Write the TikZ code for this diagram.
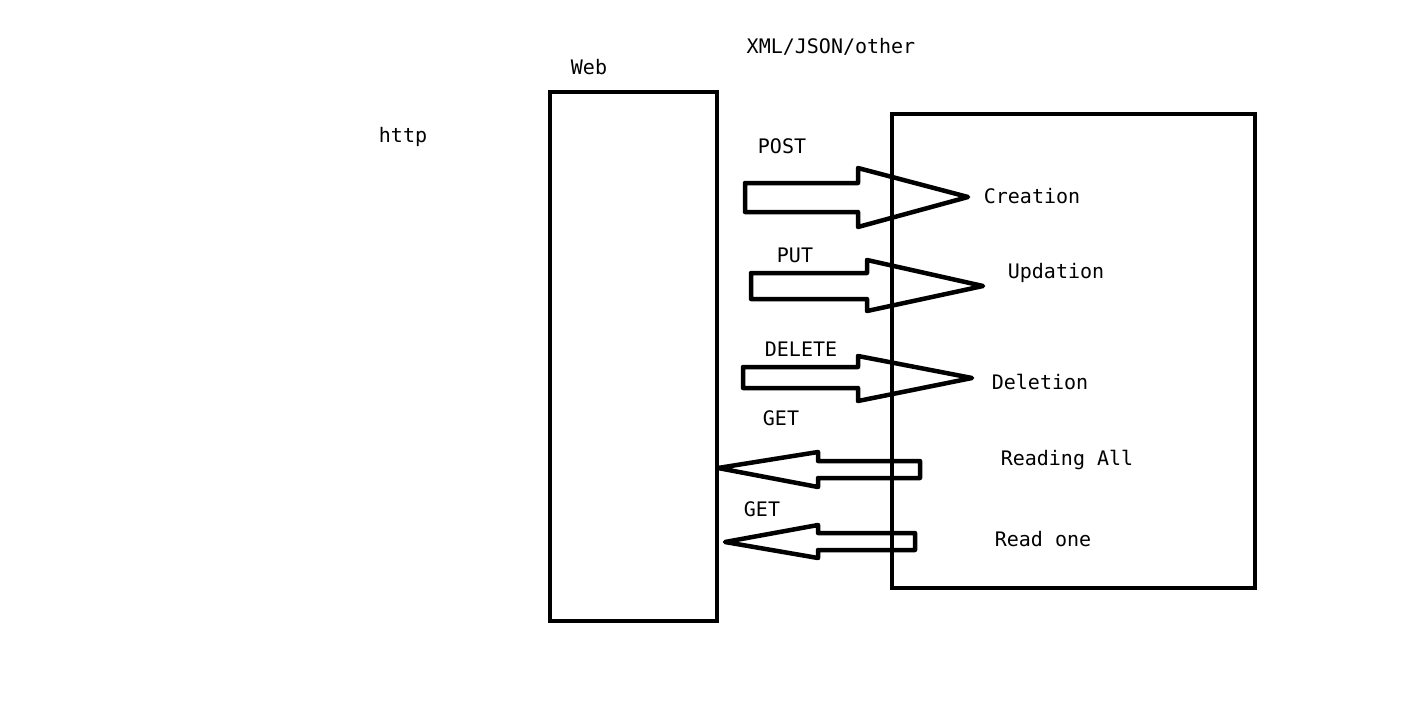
\documentclass[tikz,border=0pt]{standalone}
\usepackage{fontspec}
\setmonofont{DejaVu Sans Mono}
\usetikzlibrary{positioning}

\begin{document}
\begin{tikzpicture}[
    x=1pt, y=-1pt,
    lbl/.style={inner sep=0pt, font=\ttfamily\fontsize{20}{23}\selectfont},
    pane/.style={draw, line width=4.5pt, rectangle, inner sep=0pt},
    blockarrow/.style={draw, line width=4.5pt, line join=round},
]
\useasboundingbox (0,0) rectangle (1416,726);

% --- the two boxes ---
\node[pane, minimum width=167pt, minimum height=529pt] (web) at (633.5,356.5) {};
\node[pane, minimum width=363pt, minimum height=474pt] (res) at (1073.5,351) {};

% --- top labels ---
\node[lbl] (web-lbl) at (589,67) {Web};
\node[lbl] (fmt) at (831,47) {XML/JSON/other};
\node[lbl] (http) at (403,137) {http};

% --- incoming requests ---
\node[lbl] (post) at (782,146) {POST};
\draw[blockarrow] (745,183) -- (858,183) -- (858,168) -- (968,197)
    -- (858,227) -- (858,212) -- (745,212) -- cycle;
\node[lbl] (create) at (1032,196) {Creation};

\node[lbl] (put) at (795,255) {PUT};
\draw[blockarrow] (751,273) -- (867,273) -- (867,260) -- (983,286)
    -- (867,311) -- (867,299) -- (751,299) -- cycle;
\node[lbl] (update) at (1056,273) {Updation};

\node[lbl] (delete) at (801,349) {DELETE};
\draw[blockarrow] (743,367) -- (858,367) -- (858,356) -- (972,378)
    -- (858,401) -- (858,388) -- (743,388) -- cycle;
\node[lbl] (del) at (1040,382) {Deletion};

% --- outgoing responses ---
\node[lbl] (get-all) at (781,418) {GET};
\draw[blockarrow] (920,461) -- (818,461) -- (818,452) -- (718,468)
    -- (818,487) -- (818,478) -- (920,478) -- cycle;
\node[lbl] (read-all) at (1067,460) {Reading All};

\node[lbl] (get-one) at (762,509) {GET};
\draw[blockarrow] (915,533) -- (818,533) -- (818,525) -- (725,542)
    -- (818,558) -- (818,550) -- (915,550) -- cycle;
\node[lbl] (read-one) at (1043,539) {Read one};
\end{tikzpicture}
\end{document}
